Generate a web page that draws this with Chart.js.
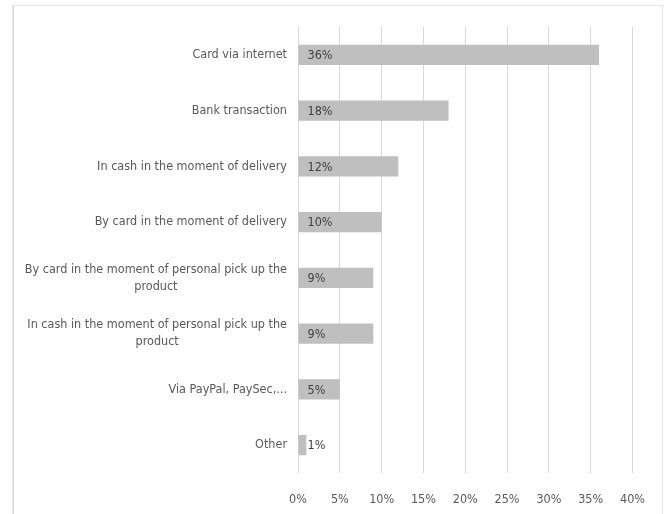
<!DOCTYPE html>
<html>
<head>
<meta charset="utf-8">
<script src="https://cdn.jsdelivr.net/npm/chart.js@4"></script>
<style>
  body { margin: 0; background: #fff; }
  #wrap { width: 664px; height: 514px; }
</style>
</head>
<body>
<div id="wrap"><canvas id="payChart" width="664" height="514"></canvas></div>
<script>
// payment methods, top to bottom
const categories = [
  "Card via internet",
  "Bank transaction",
  "In cash in the moment of delivery",
  "By card in the moment of delivery",
  ["By card in the moment of personal pick up the", "product"],
  ["In cash in the moment of personal pick up the", "product"],
  "Via PayPal, PaySec,...",
  "Other"
];
const shares = [36, 18, 12, 10, 9, 9, 5, 1];
const xTicks = [0, 5, 10, 15, 20, 25, 30, 35, 40];

const FONT = "'Liberation Sans Narrow', 'DejaVu Sans Condensed', sans-serif";
const FSIZE = 12.5;

// light frame around the whole chart
const framePlugin = {
  id: "frame",
  beforeDraw(chart) {
    const ctx = chart.ctx;
    ctx.save();
    ctx.strokeStyle = "#e6e6e6";
    ctx.lineWidth = 1;
    ctx.strokeRect(12.5, 5.5, 650, 540);
    // left edge is a bit heavier in the original
    ctx.strokeStyle = "#d9d9d9";
    ctx.beginPath();
    ctx.moveTo(13.5, 6);
    ctx.lineTo(13.5, 514);
    ctx.stroke();
    ctx.restore();
  }
};

// category labels: block right aligned, lines centered inside block
const catLabels = {
  id: "catLabels",
  afterDraw(chart) {
    const ctx = chart.ctx;
    const yScale = chart.scales.y;
    const right = chart.chartArea.left - 11;
    ctx.save();
    ctx.font = FSIZE + "px " + FONT;
    ctx.fillStyle = "#595959";
    ctx.textAlign = "center";
    ctx.textBaseline = "middle";
    categories.forEach((lab, i) => {
      const lines = Array.isArray(lab) ? lab : [lab];
      const w = Math.max(...lines.map(l => ctx.measureText(l).width));
      const cx = right - w / 2;
      const cy = yScale.getPixelForTick(i);
      const lh = 17;
      lines.forEach((l, j) => {
        ctx.fillText(l, cx, cy + (j - (lines.length - 1) / 2) * lh);
      });
    });
    ctx.restore();
  }
};

// value labels at the bar base
const valueLabels = {
  id: "valueLabels",
  afterDatasetsDraw(chart) {
    const ctx = chart.ctx;
    const meta = chart.getDatasetMeta(0);
    ctx.save();
    ctx.font = FSIZE + "px " + FONT;
    ctx.fillStyle = "#404040";
    ctx.textAlign = "left";
    ctx.textBaseline = "middle";
    meta.data.forEach((bar, i) => {
      ctx.fillText(shares[i] + "%", bar.base + 9, bar.y + 1);
    });
    ctx.restore();
  }
};

new Chart(document.getElementById("payChart"), {
  type: "bar",
  data: {
    labels: categories,
    datasets: [{
      data: shares,
      backgroundColor: "#bfbfbf",
      borderWidth: 0,
      barPercentage: 0.36,
      categoryPercentage: 1
    }]
  },
  options: {
    indexAxis: "y",
    responsive: false,
    animation: false,
    layout: { padding: { left: 0, top: 27, right: 31, bottom: 0 } },
    plugins: {
      legend: { display: false },
      tooltip: { enabled: false }
    },
    scales: {
      x: {
        min: 0,
        max: 40,
        afterBuildTicks: (s) => { s.ticks = xTicks.map(v => ({ value: v })); },
        afterFit: (s) => { s.height = 41; },
        grid: { color: "#d9d9d9", lineWidth: 1, drawTicks: false },
        border: { display: false },
        ticks: {
          padding: 19,
          color: "#595959",
          font: { family: FONT, size: FSIZE },
          callback: (v) => v + "%"
        }
      },
      y: {
        afterFit: (s) => { s.width = 298; },
        grid: { display: false },
        border: { display: false },
        ticks: { display: false }
      }
    }
  },
  plugins: [framePlugin, catLabels, valueLabels]
});
</script>
</body>
</html>
